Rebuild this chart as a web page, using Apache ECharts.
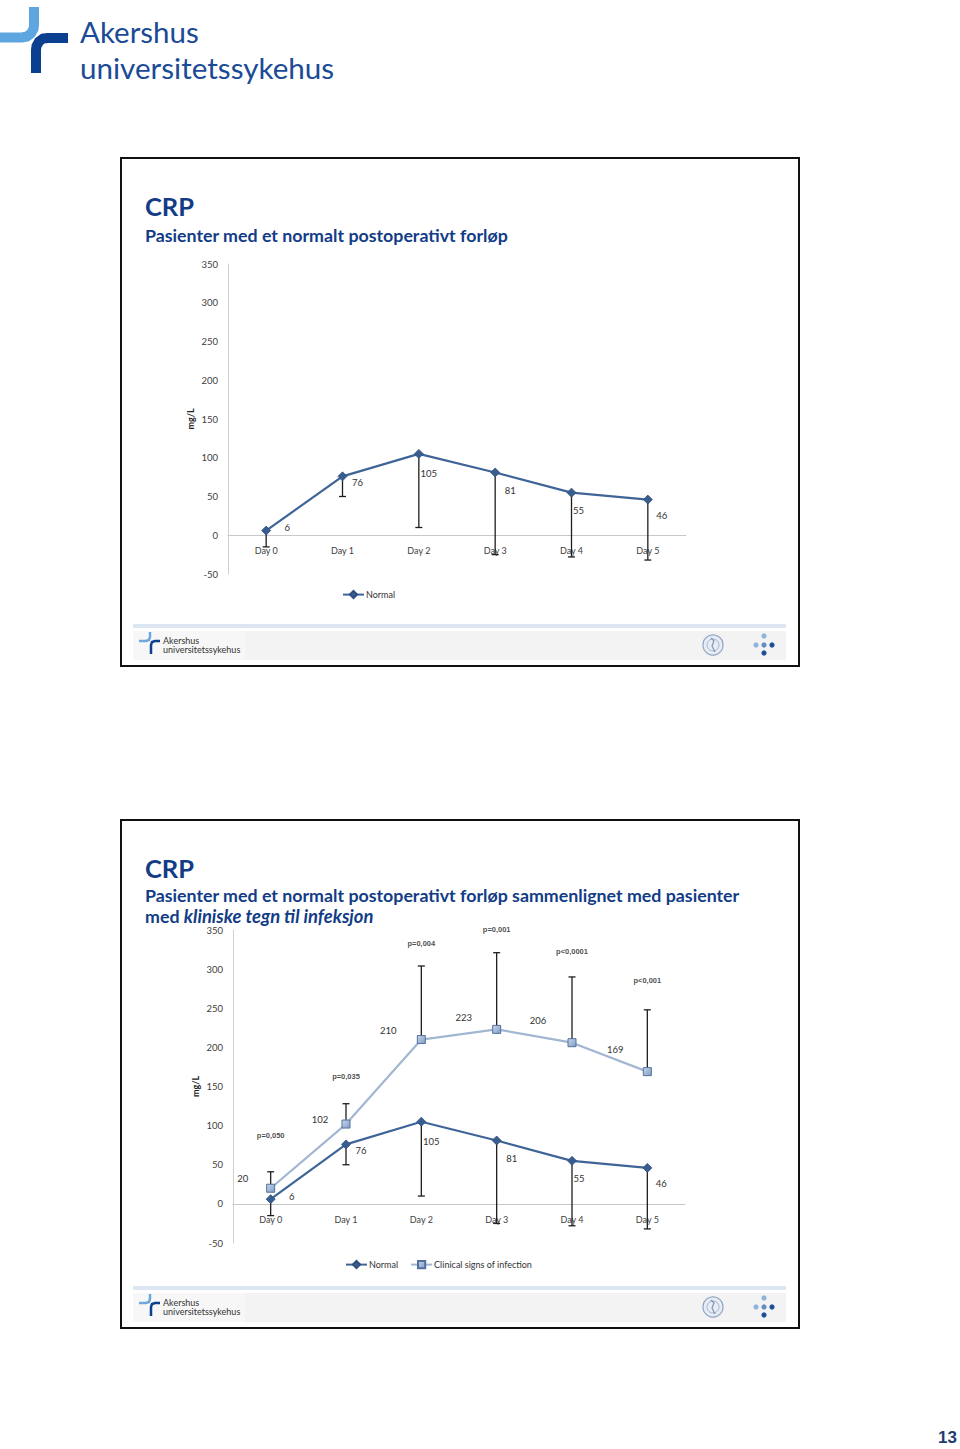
<!DOCTYPE html>
<html>
<head>
<meta charset="utf-8">
<script src="https://cdn.jsdelivr.net/npm/echarts@6/dist/echarts.min.js"></script>
<style>
html,body{margin:0;padding:0;background:#fff;}
#page{width:960px;height:1449px;}
</style>
</head>
<body>
<div id="page"></div>
<script>
// ---- data ----
const categories = ['Day 0', 'Day 1', 'Day 2', 'Day 3', 'Day 4', 'Day 5'];
const normalMean = [6, 76, 105, 81, 55, 46];
const normalErrLow = [-15, 50, 10, -25, -28, -32];
const infectionMean = [20, 102, 210, 223, 206, 169];
const infectionErrHigh = [41, 128, 304, 321, 290, 248];
const pValues = ['p=0,050', 'p=0,035', 'p=0,004', 'p=0,001', 'p<0,0001', 'p<0,001'];
const pValueLevel = [88, 163, 333, 351, 322, 285];
const yMin = -50, yMax = 350, yStep = 50;
const yName = 'mg/L';
const seriesNames = ['Normal', 'Clinical signs of infection'];

// ---- styles ----
const FONT = 'Lato, "Liberation Sans", sans-serif';
const NAVY = '#123c86';
const NORMAL_COLOR = '#3f6497';
const INF_COLOR = '#a2b6d1';
// label nudges (pixels, label centre relative to its marker), as placed in the reference
const normalLabelNudge = [[21, -3], [15, 6], [10, 20], [15, 18], [7, 18], [14, 16]];
const infLabelNudge = [[-28, -10], [-26, -5], [-33, -9], [-33, -12], [-34, -22], [-32, -22]];

const chart = echarts.init(document.getElementById('page'), null, {renderer: 'svg', width: 960, height: 1449});

function errRender(params, api) {
  const x = api.value(0);
  const a = api.coord([x, api.value(1)]);
  const b = api.coord([x, api.value(2)]);
  const cap = 3.5;
  const st = {stroke: '#1e1e1e', lineWidth: 1.3};
  return {type: 'group', children: [
    {type: 'line', shape: {x1: a[0], y1: a[1], x2: b[0], y2: b[1]}, style: st},
    {type: 'line', shape: {x1: b[0] - cap, y1: b[1], x2: b[0] + cap, y2: b[1]}, style: st}
  ]};
}

function xAx(gi) {
  return {
    type: 'category', gridIndex: gi, data: categories, boundaryGap: true,
    axisLine: {onZero: true, lineStyle: {color: '#c8c8c8', width: 1}},
    axisTick: {show: false},
    axisLabel: {color: '#404040', fontSize: 9, fontFamily: FONT, margin: -28.5},
    splitLine: {show: false}
  };
}
function yAx(gi) {
  return {
    type: 'value', gridIndex: gi, min: yMin, max: yMax, interval: yStep,
    name: yName, nameLocation: 'middle', nameRotate: 90, nameGap: 33,
    nameTextStyle: {color: '#222', fontSize: 9, fontWeight: 'bold', fontFamily: FONT},
    axisLine: {show: true, lineStyle: {color: '#d0d0d0', width: 1}},
    axisTick: {show: false},
    axisLabel: {color: '#404040', fontSize: 9.5, lineHeight: 9, fontFamily: FONT, margin: 10},
    splitLine: {show: false}
  };
}

const baseLabel = {show: true, position: 'inside', align: 'center', verticalAlign: 'middle', color: '#333', fontSize: 9.5, fontFamily: FONT, textBorderWidth: 0};

function withNudge(values, nudges) {
  return values.map((v, i) => ({value: v, label: {offset: nudges[i]}}));
}

function normalSeries(gi) {
  return {
    name: seriesNames[0], type: 'line', xAxisIndex: gi, yAxisIndex: gi, data: withNudge(normalMean, normalLabelNudge),
    symbol: 'diamond', symbolSize: 9, z: 5,
    lineStyle: {color: NORMAL_COLOR, width: 2.2},
    itemStyle: {color: '#3a5d8f', borderColor: '#2f4f7d', borderWidth: 0.8},
    label: baseLabel
  };
}

function decorations(dy) {
  const els = [];
  els.push({type: 'rect', shape: {x: 121, y: 158 + dy, width: 678, height: 508}, style: {fill: 'none', stroke: '#111', lineWidth: 2}});
  els.push({type: 'rect', shape: {x: 133, y: 624 + dy, width: 653, height: 4}, style: {fill: '#dde7f3'}});
  els.push({type: 'rect', shape: {x: 133, y: 631 + dy, width: 653, height: 29}, style: {fill: '#f3f3f3'}});
  els.push({type: 'rect', shape: {x: 133, y: 631 + dy, width: 112, height: 29}, style: {fill: '#f7f7f7'}});
  // small footer logo
  els.push({type: 'polyline', shape: {points: [[139, 641 + dy], [146, 641 + dy], [149, 640 + dy], [150, 637 + dy], [150, 632 + dy]]}, style: {fill: 'none', stroke: '#6aa8de', lineWidth: 2.5}});
  els.push({type: 'polyline', shape: {points: [[151, 654 + dy], [151, 645 + dy], [152, 642 + dy], [155, 641 + dy], [160, 641 + dy]]}, style: {fill: 'none', stroke: '#0c3f8e', lineWidth: 2.5}});
  els.push({type: 'text', style: {x: 163, y: 635.25 + dy, text: 'Akershus\nuniversitetssykehus', fill: '#333', fontSize: 9, lineHeight: 9.5, fontFamily: FONT, verticalAlign: 'top'}});
  // seal and dots
  els.push({type: 'circle', shape: {cx: 713, cy: 645 + dy, r: 10}, style: {fill: '#e8edf4', stroke: '#8ea4c4', lineWidth: 1.2}});
  els.push({type: 'circle', shape: {cx: 713, cy: 645 + dy, r: 6}, style: {fill: 'none', stroke: '#a4b6d0', lineWidth: 1}});
  els.push({type: 'polyline', shape: {points: [[711, 638 + dy], [714, 641 + dy], [712, 646 + dy], [715, 652 + dy]]}, style: {fill: 'none', stroke: '#7f96b8', lineWidth: 1.2}});
  const dots = [[764, 636, '#8fb3d9'], [756, 645, '#8fb3d9'], [764, 645, '#5f8fc4'], [772, 645, '#1e4f94'], [764, 653, '#1e4f94']];
  dots.forEach(d => els.push({type: 'circle', shape: {cx: d[0], cy: d[1] + dy, r: 2.6}, style: {fill: d[2]}}));
  els.push({type: 'text', style: {x: 145, y: 206 + dy, text: 'CRP', fill: NAVY, fontSize: 25.5, lineHeight: 26, fontWeight: 'bold', fontFamily: FONT, verticalAlign: 'middle'}});
  return els;
}

const SUB = 17.8;
const graphic = [
  // top logo
  {type: 'polyline', shape: {points: [[0, 37.5], [22, 37.5], [27, 36.5], [31, 33.5], [33.5, 29], [34, 25], [34, 7]]}, style: {fill: 'none', stroke: '#5ea6df', lineWidth: 10}},
  {type: 'polyline', shape: {points: [[36, 73], [36, 50], [36.5, 46], [39, 41.5], [43, 38.5], [48, 38], [68, 38]]}, style: {fill: 'none', stroke: '#0b3f8f', lineWidth: 10}},
  {type: 'text', style: {x: 80, y: 31, text: 'Akershus', fill: '#1b4a96', fontSize: 29.5, lineHeight: 26, fontFamily: FONT, verticalAlign: 'middle'}},
  {type: 'text', style: {x: 80, y: 67, text: 'universitetssykehus', fill: '#1b4a96', fontSize: 29.6, lineHeight: 26, fontFamily: FONT, verticalAlign: 'middle'}},
  ...decorations(0),
  ...decorations(662),
  {type: 'text', style: {x: 145, y: 235, text: 'Pasienter med et normalt postoperativt forløp', fill: NAVY, fontSize: SUB, lineHeight: 18, fontWeight: 'bold', fontFamily: FONT, verticalAlign: 'middle'}},
  {type: 'text', style: {x: 145, y: 895, text: 'Pasienter med et normalt postoperativt forløp sammenlignet med pasienter', fill: NAVY, fontSize: SUB, lineHeight: 18, fontWeight: 'bold', fontFamily: FONT, verticalAlign: 'middle'}},
  {type: 'text', style: {x: 145, y: 916, text: '{n|med }{i|kliniske tegn til infeksjon}', fill: NAVY, fontSize: SUB, lineHeight: 17, fontWeight: 'bold', fontFamily: FONT, verticalAlign: 'middle',
    rich: {n: {fill: NAVY, fontSize: SUB, lineHeight: 17, fontWeight: 'bold', fontFamily: FONT}, i: {fill: NAVY, fontSize: 18.4, lineHeight: 17, fontWeight: 'bold', fontStyle: 'italic', fontFamily: FONT}}}},
  {type: 'text', style: {x: 957, y: 1437, text: '13', fill: '#1f3c70', fontSize: 17, fontWeight: 'bold', fontFamily: '"Liberation Sans", sans-serif', align: 'right', verticalAlign: 'middle'}}
];

const legendText = {color: '#333', fontSize: 9, fontFamily: FONT, padding: [0, 0, 0, -3]};
const option = {
  backgroundColor: '#fff',
  animation: false,
  graphic: graphic,
  grid: [
    {left: 228, top: 264, width: 458, height: 310},
    {left: 233, top: 930, width: 452, height: 313}
  ],
  xAxis: [xAx(0), xAx(1)],
  yAxis: [yAx(0), yAx(1)],
  legend: [
    {data: [seriesNames[0]], left: 337, top: 585, itemWidth: 21, itemHeight: 9, itemGap: 12, textStyle: legendText},
    {data: [seriesNames[0], seriesNames[1]], left: 340, top: 1255, itemWidth: 21, itemHeight: 9, itemGap: 12, textStyle: legendText}
  ],
  series: [
    normalSeries(0),
    {type: 'custom', xAxisIndex: 0, yAxisIndex: 0, renderItem: errRender, z: 3, silent: true,
      data: categories.map((c, i) => [i, normalMean[i], normalErrLow[i]]), encode: {x: 0, y: [1, 2]}},
    normalSeries(1),
    {
      name: seriesNames[1], type: 'line', xAxisIndex: 1, yAxisIndex: 1, data: withNudge(infectionMean, infLabelNudge),
      symbol: 'rect', symbolSize: 8, z: 5,
      lineStyle: {color: INF_COLOR, width: 2.2},
      itemStyle: {color: new echarts.graphic.LinearGradient(0, 0, 1, 1, [{offset: 0, color: '#c9d7ea'}, {offset: 1, color: '#7f9cc6'}]), borderColor: '#52719c', borderWidth: 1},
      label: baseLabel
    },
    {type: 'custom', xAxisIndex: 1, yAxisIndex: 1, renderItem: errRender, z: 3, silent: true,
      data: categories.map((c, i) => [i, normalMean[i], normalErrLow[i]]), encode: {x: 0, y: [1, 2]}},
    {type: 'custom', xAxisIndex: 1, yAxisIndex: 1, renderItem: errRender, z: 3, silent: true, clip: false,
      data: categories.map((c, i) => [i, infectionMean[i], infectionErrHigh[i]]), encode: {x: 0, y: [1, 2]}},
    {type: 'scatter', xAxisIndex: 1, yAxisIndex: 1, symbol: 'circle', symbolSize: 1, clip: false, silent: true,
      itemStyle: {color: 'rgba(0,0,0,0)'},
      data: categories.map((c, i) => ({value: [i, pValueLevel[i]], name: pValues[i]})),
      label: {show: true, position: 'inside', align: 'center', verticalAlign: 'middle', formatter: p => p.name, color: '#1a1a1a', textBorderWidth: 0, fontSize: 7.5, fontWeight: 'bold', fontFamily: '"Liberation Sans", Arial, sans-serif'}}
  ]
};
chart.setOption(option);
</script>
</body>
</html>
